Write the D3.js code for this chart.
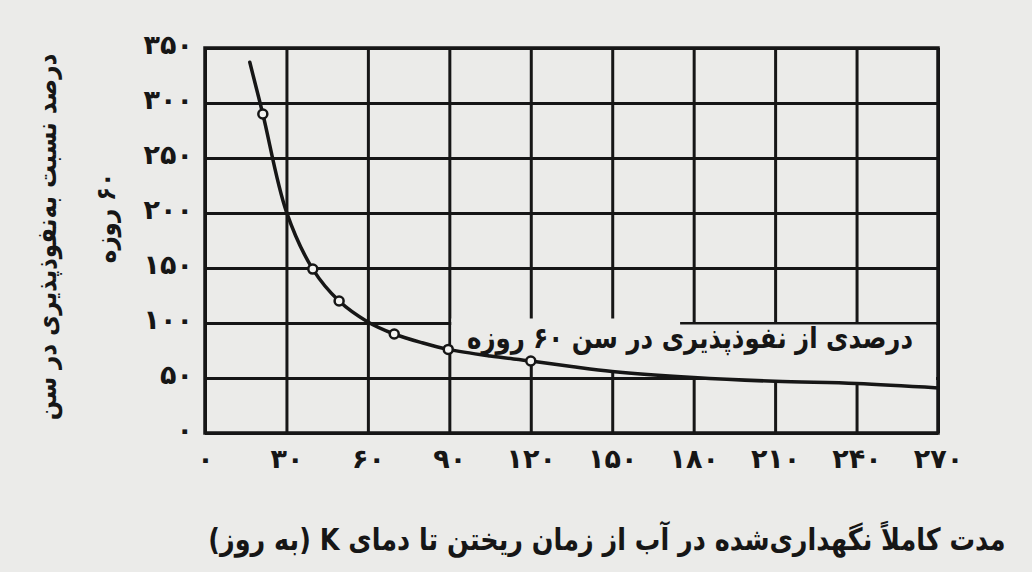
<!DOCTYPE html>
<html>
<head>
<meta charset="utf-8">
<script src="https://cdn.jsdelivr.net/npm/d3@7/dist/d3.min.js"></script>
<style>
  html, body { margin: 0; padding: 0; background: #ebebe9; }
  svg { display: block; }
  text { font-family: "DejaVu Sans", sans-serif; font-weight: bold; fill: #161616; }
</style>
</head>
<body>
<svg id="chart" width="1032" height="572"></svg>
<script>
// ---- data ----
const xTicks = [0, 30, 60, 90, 120, 150, 180, 210, 240, 270];
const xTickLabels = ["۰", "۳۰", "۶۰", "۹۰", "۱۲۰", "۱۵۰", "۱۸۰", "۲۱۰", "۲۴۰", "۲۷۰"];
const yTicks = [0, 50, 100, 150, 200, 250, 300, 350];
const yTickLabels = ["۰", "۵۰", "۱۰۰", "۱۵۰", "۲۰۰", "۲۵۰", "۳۰۰", "۳۵۰"];

// smooth curve trace (days, percent)
const curveDays   = [16.5, 21.3, 30, 39.7, 49.4, 60, 69.7, 80, 89.6, 105, 120, 135, 150, 180, 210, 240, 270];
const curveValues = [337, 290, 201, 149, 120, 101, 90, 82, 76, 70, 65.5, 60.5, 56, 50.5, 47, 45, 41];

// measured points (open circles)
const markerDays   = [21.3, 39.7, 49.4, 69.7, 89.6, 120];
const markerValues = [290, 149, 120, 90, 76, 65.5];

const curveLabel = "درصدی از نفوذپذیری در سن ۶۰ روزه";
const yTitleLines = ["درصد نسبت به‌نفوذپذیری در سن", "۶۰ روزه"];
const xTitle = "مدت کاملاً نگهداری‌شده در آب از زمان ریختن تا دمای K (به روز)";

// ---- layout ----
const svg = d3.select("#chart");
const ink = "#161616";
const paper = "#ebebe9";
const pLeft = 205, pRight = 938, pTop = 48, pBottom = 433;

const x = d3.scaleLinear().domain([0, 270]).range([pLeft, pRight]);
const y = d3.scaleLinear().domain([0, 350]).range([pBottom, pTop]);

svg.append("rect").attr("width", 1032).attr("height", 572).attr("fill", paper);

// grid
const gx = svg.append("g").attr("transform", `translate(0,${pBottom})`)
  .call(d3.axisBottom(x).tickValues(xTicks).tickSize(-(pBottom - pTop)).tickFormat(""));
gx.select(".domain").remove();
gx.selectAll("line").attr("stroke", ink).attr("stroke-width", 3);

const gy = svg.append("g").attr("transform", `translate(${pLeft},0)`)
  .call(d3.axisLeft(y).tickValues(yTicks).tickSize(-(pRight - pLeft)).tickFormat(""));
gy.select(".domain").remove();
gy.selectAll("line").attr("stroke", ink).attr("stroke-width", 3);

// patch behind the curve label (between label top and curve)
const pts = curveDays.map((d, i) => [d, curveValues[i]]);
const defs = svg.append("defs");
defs.append("clipPath").attr("id", "clipA").append("rect")
  .attr("x", x(90) + 2).attr("y", 0).attr("width", x(175) - x(90) - 2).attr("height", 572);
defs.append("clipPath").attr("id", "clipB").append("rect")
  .attr("x", x(175)).attr("y", 0).attr("width", x(270) - x(175) - 2).attr("height", 572);

const areaTo = lvl => d3.area()
  .x(d => x(d[0])).y0(d => y(d[1])).y1(() => y(lvl))
  .curve(d3.curveCatmullRom.alpha(0.5));
svg.append("path").attr("clip-path", "url(#clipA)")
  .attr("d", areaTo(104)(pts)).attr("fill", paper);
svg.append("path").attr("clip-path", "url(#clipB)")
  .attr("d", areaTo(98.7)(pts)).attr("fill", paper);

// frame
svg.append("rect").attr("x", pLeft).attr("y", pTop)
  .attr("width", pRight - pLeft).attr("height", pBottom - pTop)
  .attr("fill", "none").attr("stroke", ink).attr("stroke-width", 3.5);

// curve
svg.append("path")
  .attr("d", d3.line().x(d => x(d[0])).y(d => y(d[1])).curve(d3.curveCatmullRom.alpha(0.5))(pts))
  .attr("fill", "none").attr("stroke", ink).attr("stroke-width", 3.5).attr("stroke-linecap", "round");

// markers
svg.append("g").selectAll("circle")
  .data(markerDays.map((d, i) => [d, markerValues[i]]))
  .join("circle")
  .attr("cx", d => x(d[0])).attr("cy", d => y(d[1])).attr("r", 4.5)
  .attr("fill", "#f4f4f2").attr("stroke", ink).attr("stroke-width", 2.5);

// tick labels
const ax = svg.append("g").attr("transform", `translate(0,${pBottom})`)
  .call(d3.axisBottom(x).tickValues(xTicks).tickSize(0).tickPadding(16)
    .tickFormat((d, i) => xTickLabels[i]));
ax.select(".domain").remove();
ax.selectAll("text").attr("font-size", 27).attr("font-family", "DejaVu Sans")
  .attr("font-weight", "bold").attr("fill", ink).attr("letter-spacing", 3);

const ay = svg.append("g").attr("transform", `translate(${pLeft},0)`)
  .call(d3.axisLeft(y).tickValues(yTicks).tickSize(0).tickPadding(12)
    .tickFormat((d, i) => yTickLabels[i]));
ay.select(".domain").remove();
ay.selectAll("text").attr("font-size", 27).attr("font-family", "DejaVu Sans")
  .attr("font-weight", "bold").attr("fill", ink).attr("letter-spacing", 3)
  .attr("dy", "0.2em");

// curve label
svg.append("text").attr("transform", "translate(690,348) scale(1,1.2)")
  .attr("text-anchor", "middle").attr("direction", "rtl")
  .attr("font-size", 24.5).text(curveLabel);

// y title (rotated)
svg.append("text").attr("transform", "translate(47,237) rotate(-90) scale(1,1.15)")
  .attr("text-anchor", "middle").attr("dominant-baseline", "central")
  .attr("direction", "rtl").attr("font-size", 23).text(yTitleLines[0]);
svg.append("text").attr("transform", "translate(106,218) rotate(-90) scale(1,1.15)")
  .attr("text-anchor", "middle").attr("dominant-baseline", "central")
  .attr("direction", "rtl").attr("font-size", 23).text(yTitleLines[1]);

// x title
svg.append("text").attr("transform", "translate(607,550) scale(1,1.2)")
  .attr("text-anchor", "middle").attr("direction", "rtl")
  .attr("font-size", 25.5).text(xTitle);
</script>
</body>
</html>
